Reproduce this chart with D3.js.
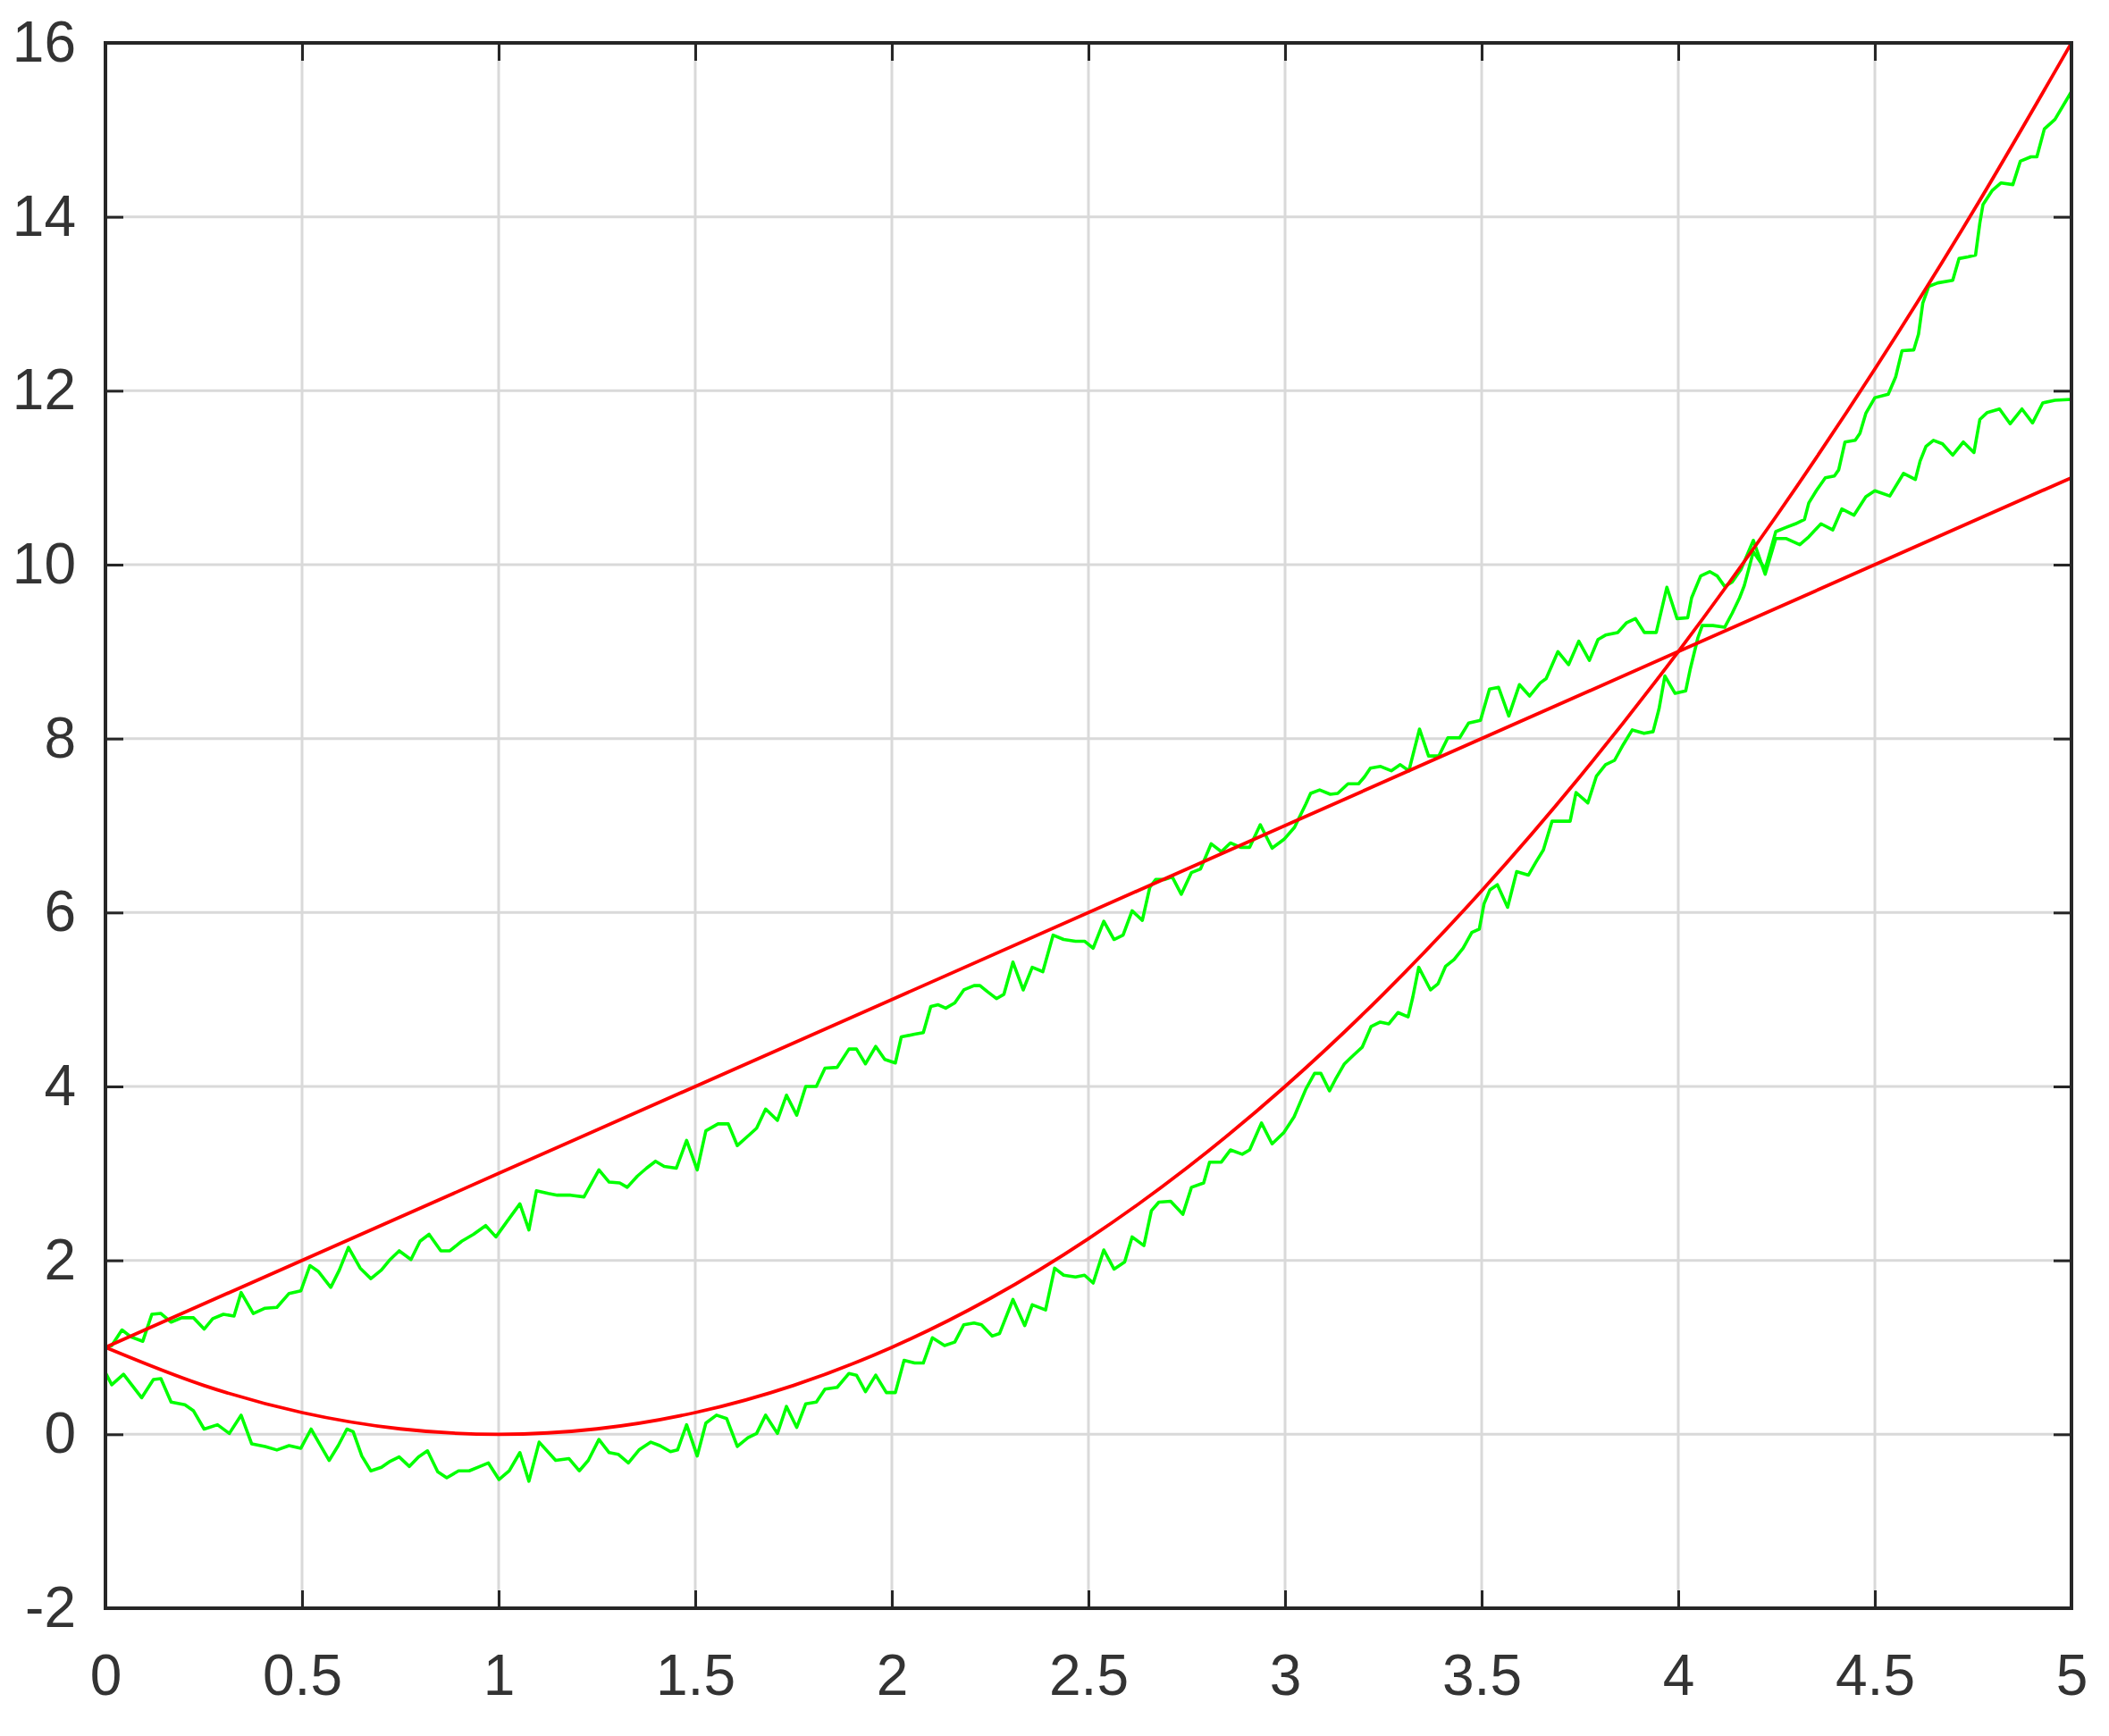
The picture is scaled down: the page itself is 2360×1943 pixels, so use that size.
<!DOCTYPE html>
<html>
<head>
<meta charset="utf-8">
<script src="https://cdn.jsdelivr.net/npm/d3@7"></script>
<style>
html,body{margin:0;padding:0;background:#fff;}
svg{display:block;}
</style>
</head>
<body>
<script>
// ---- data ----
const xTicks = [0, 0.5, 1, 1.5, 2, 2.5, 3, 3.5, 4, 4.5, 5];
const yTicks = [-2, 0, 2, 4, 6, 8, 10, 12, 14, 16];
const xTickLabels = ["0", "0.5", "1", "1.5", "2", "2.5", "3", "3.5", "4", "4.5", "5"];
const yTickLabels = ["-2", "0", "2", "4", "6", "8", "10", "12", "14", "16"];

// red reference curves
const redLine = [[0,1],[1,3],[2,5],[3,7],[4,9],[5,11]];
const redParabola = [[0,1],[0.25,0.5625],[0.5,0.25],[0.75,0.0625],[1,0],[1.25,0.0625],[1.5,0.25],[1.75,0.5625],[2,1],[2.25,1.5625],[2.5,2.25],[2.75,3.0625],[3,4],[3.25,5.0625],[3.5,6.25],[3.75,7.5625],[4,9],[4.25,10.5625],[4.5,12.25],[4.75,14.0625],[5,16]];

// green noisy measurements
const greenUpper = [[0,1.00],[0.016,1.02],[0.042,1.20],[0.065,1.12],[0.095,1.07],[0.118,1.38],[0.141,1.39],[0.167,1.29],[0.194,1.34],[0.224,1.34],[0.251,1.21],[0.273,1.33],[0.300,1.38],[0.327,1.36],[0.345,1.63],[0.376,1.39],[0.406,1.45],[0.436,1.46],[0.467,1.62],[0.497,1.65],[0.520,1.94],[0.542,1.87],[0.573,1.69],[0.595,1.89],[0.618,2.15],[0.648,1.91],[0.675,1.79],[0.702,1.89],[0.724,2.01],[0.747,2.11],[0.777,2.01],[0.800,2.22],[0.823,2.30],[0.853,2.11],[0.876,2.11],[0.906,2.22],[0.936,2.30],[0.967,2.40],[0.993,2.27],[1.020,2.44],[1.054,2.65],[1.077,2.35],[1.096,2.80],[1.126,2.77],[1.149,2.75],[1.183,2.75],[1.217,2.73],[1.255,3.04],[1.281,2.90],[1.308,2.89],[1.327,2.84],[1.353,2.97],[1.376,3.06],[1.399,3.14],[1.421,3.08],[1.452,3.06],[1.478,3.38],[1.505,3.04],[1.527,3.49],[1.558,3.57],[1.584,3.57],[1.607,3.32],[1.634,3.43],[1.656,3.52],[1.679,3.74],[1.709,3.61],[1.732,3.90],[1.758,3.67],[1.781,4.00],[1.808,4.00],[1.830,4.21],[1.861,4.22],[1.891,4.43],[1.910,4.43],[1.933,4.26],[1.959,4.46],[1.982,4.31],[2.009,4.27],[2.024,4.57],[2.058,4.60],[2.080,4.62],[2.099,4.92],[2.118,4.94],[2.137,4.90],[2.160,4.96],[2.183,5.11],[2.209,5.16],[2.224,5.16],[2.243,5.09],[2.266,5.01],[2.285,5.06],[2.308,5.43],[2.334,5.11],[2.357,5.37],[2.384,5.32],[2.410,5.74],[2.437,5.69],[2.467,5.67],[2.490,5.67],[2.512,5.59],[2.539,5.90],[2.565,5.69],[2.588,5.74],[2.611,6.02],[2.637,5.91],[2.656,6.29],[2.671,6.38],[2.694,6.38],[2.713,6.41],[2.736,6.21],[2.762,6.46],[2.785,6.50],[2.812,6.79],[2.838,6.70],[2.861,6.80],[2.887,6.75],[2.910,6.75],[2.937,7.01],[2.967,6.74],[2.997,6.84],[3.024,6.98],[3.053,7.25],[3.065,7.37],[3.088,7.41],[3.115,7.36],[3.134,7.37],[3.160,7.48],[3.187,7.48],[3.202,7.56],[3.217,7.66],[3.243,7.68],[3.270,7.63],[3.293,7.70],[3.315,7.63],[3.342,8.11],[3.365,7.80],[3.391,7.80],[3.414,8.01],[3.444,8.01],[3.467,8.18],[3.497,8.21],[3.520,8.57],[3.543,8.59],[3.569,8.26],[3.596,8.62],[3.622,8.49],[3.649,8.64],[3.664,8.69],[3.694,9.00],[3.721,8.85],[3.747,9.12],[3.774,8.90],[3.796,9.14],[3.815,9.19],[3.846,9.22],[3.868,9.33],[3.891,9.38],[3.914,9.22],[3.944,9.22],[3.971,9.74],[3.997,9.38],[4.024,9.39],[4.034,9.62],[4.057,9.87],[4.080,9.92],[4.099,9.87],[4.118,9.75],[4.137,9.80],[4.160,9.95],[4.191,10.28],[4.221,9.89],[4.248,10.30],[4.275,10.30],[4.309,10.23],[4.332,10.32],[4.363,10.47],[4.393,10.40],[4.416,10.64],[4.447,10.57],[4.477,10.78],[4.500,10.85],[4.538,10.79],[4.573,11.05],[4.603,10.98],[4.615,11.19],[4.630,11.36],[4.649,11.43],[4.672,11.39],[4.698,11.26],[4.725,11.41],[4.752,11.29],[4.767,11.67],[4.786,11.75],[4.817,11.79],[4.844,11.62],[4.874,11.79],[4.901,11.63],[4.927,11.86],[4.958,11.89],[5.000,11.90]];

const greenLower = [[0,0.71],[0.016,0.57],[0.046,0.69],[0.092,0.42],[0.122,0.63],[0.141,0.64],[0.167,0.37],[0.202,0.34],[0.224,0.27],[0.251,0.06],[0.285,0.11],[0.315,0.01],[0.345,0.22],[0.372,-0.11],[0.406,-0.14],[0.436,-0.18],[0.467,-0.13],[0.497,-0.16],[0.523,0.06],[0.542,-0.09],[0.569,-0.30],[0.592,-0.13],[0.614,0.06],[0.630,0.03],[0.652,-0.25],[0.675,-0.42],[0.702,-0.38],[0.724,-0.31],[0.747,-0.26],[0.773,-0.37],[0.796,-0.26],[0.819,-0.19],[0.845,-0.43],[0.868,-0.50],[0.898,-0.42],[0.925,-0.42],[0.952,-0.37],[0.974,-0.33],[1.001,-0.52],[1.027,-0.42],[1.054,-0.21],[1.077,-0.54],[1.103,-0.09],[1.145,-0.30],[1.179,-0.28],[1.205,-0.42],[1.228,-0.30],[1.255,-0.06],[1.281,-0.21],[1.304,-0.23],[1.330,-0.33],[1.357,-0.18],[1.387,-0.09],[1.410,-0.13],[1.437,-0.20],[1.455,-0.18],[1.478,0.11],[1.505,-0.25],[1.527,0.13],[1.554,0.22],[1.580,0.18],[1.607,-0.14],[1.634,-0.04],[1.656,0.01],[1.679,0.22],[1.709,0.01],[1.732,0.32],[1.758,0.08],[1.781,0.35],[1.808,0.37],[1.830,0.52],[1.861,0.54],[1.891,0.70],[1.910,0.68],[1.933,0.49],[1.959,0.68],[1.986,0.48],[2.009,0.48],[2.031,0.85],[2.058,0.82],[2.080,0.82],[2.103,1.11],[2.134,1.02],[2.160,1.06],[2.183,1.26],[2.209,1.28],[2.228,1.26],[2.255,1.13],[2.274,1.16],[2.308,1.55],[2.338,1.25],[2.357,1.49],[2.391,1.43],[2.414,1.91],[2.437,1.83],[2.467,1.81],[2.490,1.83],[2.512,1.74],[2.539,2.12],[2.565,1.90],[2.592,1.98],[2.611,2.27],[2.641,2.17],[2.660,2.57],[2.679,2.67],[2.709,2.68],[2.740,2.53],[2.762,2.84],[2.793,2.89],[2.808,3.13],[2.838,3.13],[2.861,3.27],[2.891,3.22],[2.910,3.27],[2.940,3.58],[2.967,3.34],[2.997,3.47],[3.023,3.65],[3.053,3.97],[3.075,4.15],[3.091,4.15],[3.113,3.95],[3.128,4.08],[3.151,4.26],[3.174,4.36],[3.196,4.45],[3.219,4.69],[3.242,4.74],[3.264,4.72],[3.287,4.85],[3.313,4.80],[3.325,5.03],[3.340,5.37],[3.370,5.11],[3.389,5.18],[3.408,5.38],[3.430,5.46],[3.453,5.59],[3.475,5.77],[3.494,5.81],[3.506,6.10],[3.521,6.26],[3.540,6.32],[3.566,6.06],[3.589,6.47],[3.619,6.43],[3.638,6.58],[3.657,6.72],[3.679,7.05],[3.709,7.05],[3.725,7.05],[3.740,7.38],[3.770,7.26],[3.792,7.57],[3.815,7.70],[3.838,7.75],[3.860,7.93],[3.883,8.10],[3.913,8.06],[3.936,8.08],[3.951,8.34],[3.966,8.72],[3.992,8.52],[4.019,8.55],[4.030,8.79],[4.050,9.16],[4.061,9.30],[4.088,9.30],[4.118,9.28],[4.137,9.44],[4.156,9.62],[4.168,9.76],[4.191,10.15],[4.221,9.95],[4.248,10.38],[4.275,10.43],[4.298,10.47],[4.321,10.52],[4.332,10.71],[4.351,10.85],[4.374,11.00],[4.397,11.02],[4.408,11.09],[4.424,11.41],[4.450,11.43],[4.462,11.51],[4.477,11.74],[4.500,11.92],[4.534,11.96],[4.553,12.16],[4.569,12.46],[4.599,12.47],[4.611,12.65],[4.622,13.01],[4.637,13.20],[4.660,13.24],[4.698,13.27],[4.714,13.52],[4.737,13.54],[4.756,13.56],[4.767,13.93],[4.775,14.14],[4.798,14.30],[4.821,14.39],[4.851,14.37],[4.870,14.64],[4.897,14.69],[4.912,14.69],[4.931,15.01],[4.958,15.12],[5.000,15.44]];

// ---- layout ----
const W = 2360, H = 1943;
const L = 118, R = 2318, T = 48, B = 1800;
const axisColor = "#262626";
const labelColor = "#333333";
const gridColor = "#d9d9d9";
const font = "'Liberation Sans', Arial, Helvetica, sans-serif";

const svg = d3.select("body").append("svg")
  .attr("width", W).attr("height", H)
  .style("background", "#fff");

const x = d3.scaleLinear().domain([0, 5]).range([L, R]);
const y = d3.scaleLinear().domain([-2, 16]).range([B, T]);

// grid
const grid = svg.append("g");
grid.selectAll("line.gx").data(xTicks).join("line")
  .attr("x1", d => x(d)).attr("x2", d => x(d))
  .attr("y1", T).attr("y2", B)
  .attr("stroke", gridColor).attr("stroke-width", 3);
grid.selectAll("line.gy").data(yTicks).join("line")
  .attr("x1", L).attr("x2", R)
  .attr("y1", d => y(d)).attr("y2", d => y(d))
  .attr("stroke", gridColor).attr("stroke-width", 3);

// lines
const line = d3.line().x(d => x(d[0])).y(d => y(d[1]));
const smooth = d3.line().x(d => x(d[0])).y(d => y(d[1])).curve(d3.curveMonotoneX);

const plot = svg.append("g");
plot.append("path").datum(greenUpper).attr("d", line)
  .attr("fill", "none").attr("stroke", "#00ff00").attr("stroke-width", 3.6).attr("stroke-linejoin", "round");
plot.append("path").datum(greenLower).attr("d", line)
  .attr("fill", "none").attr("stroke", "#00ff00").attr("stroke-width", 3.6).attr("stroke-linejoin", "round");
plot.append("path").datum(redLine).attr("d", line)
  .attr("fill", "none").attr("stroke", "#ff0000").attr("stroke-width", 3.8);
plot.append("path").datum(redParabola).attr("d", smooth)
  .attr("fill", "none").attr("stroke", "#ff0000").attr("stroke-width", 3.8);

// axes (ticks inward)
function styleAxis(g) {
  g.select(".domain").remove();
  g.selectAll(".tick line").attr("stroke", axisColor).attr("stroke-width", 3);
  g.selectAll(".tick text").attr("fill", labelColor)
    .style("font-family", font).style("font-size", "64px");
}
svg.append("g").attr("transform", `translate(0,${B})`)
  .call(d3.axisBottom(x).tickValues(xTicks).tickSize(-20).tickSizeOuter(0).tickPadding(52)
    .tickFormat((d, i) => xTickLabels[i]))
  .call(styleAxis);
svg.append("g").attr("transform", `translate(0,${T})`)
  .call(d3.axisTop(x).tickValues(xTicks).tickSize(-20).tickSizeOuter(0).tickFormat(""))
  .call(styleAxis);
svg.append("g").attr("transform", `translate(${L},0)`)
  .call(d3.axisLeft(y).tickValues(yTicks).tickSize(-20).tickSizeOuter(0).tickPadding(33)
    .tickFormat((d, i) => yTickLabels[i]))
  .call(styleAxis);
svg.append("g").attr("transform", `translate(${R},0)`)
  .call(d3.axisRight(y).tickValues(yTicks).tickSize(-20).tickSizeOuter(0).tickFormat(""))
  .call(styleAxis);

// frame
svg.append("rect").attr("x", L).attr("y", T)
  .attr("width", R - L).attr("height", B - T)
  .attr("fill", "none").attr("stroke", axisColor).attr("stroke-width", 4);
</script>
</body>
</html>
